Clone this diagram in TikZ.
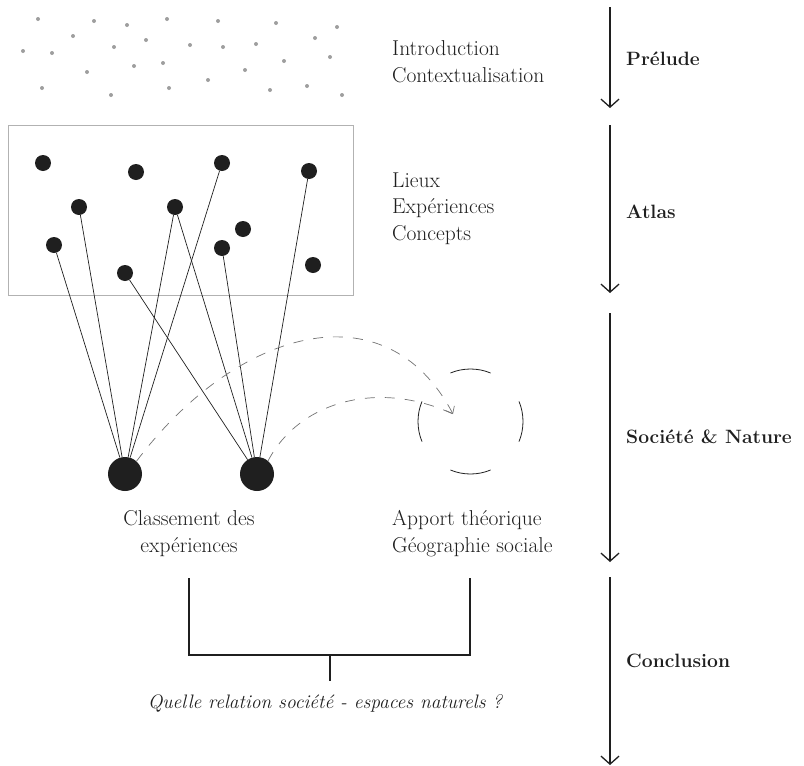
\documentclass[tikz,border=0pt]{standalone}
\usetikzlibrary{arrows.meta}
\definecolor{dotgray}{gray}{0.62}
\definecolor{boxgray}{gray}{0.7}
\definecolor{flowgray}{gray}{0.45}
\definecolor{ink}{gray}{0.12}
\begin{document}
\begin{tikzpicture}[x=1pt,y=-1pt,
  txt/.style={font=\fontsize{21.5}{25}\selectfont, inner sep=0pt, text=ink},
  lbl/.style={font=\fontsize{19.3}{23}\selectfont\bfseries, inner sep=0pt, anchor=base west, text=ink},
  gdot/.style={circle, fill=dotgray, inner sep=0pt, minimum size=4pt},
  bdot/.style={circle, fill=ink, inner sep=0pt, minimum size=16pt},
  bigdot/.style={circle, fill=ink, inner sep=0pt, minimum size=34pt},
  link/.style={draw=ink, line width=0.7pt},
  axisarrow/.style={draw=ink, line width=1.4pt, -{Straight Barb[length=8pt,width=18pt,line width=1.3pt]}},
  flow/.style={draw=flowgray, dash pattern=on 10pt off 10pt, line width=0.7pt},
  ring/.style={draw=ink, line width=0.8pt},
  brace/.style={draw=ink, line width=1.3pt},
]
\useasboundingbox (0,0) rectangle (804,766);

% ---------- Prélude : scattered grey points ----------
\foreach \px/\py [count=\n] in {38/19,94/21,127/25,167/19,218/21,276/23,337/27,
  73/36,146/40,315/38,23/51,52/53,114/47,190/45,223/47,256/44,330/57,284/61,
  87/72,134/66,163/63,245/70,42/88,111/95,169/88,208/80,270/90,307/86,342/95}
  \node[gdot] (g\n) at (\px,\py) {};

\node[txt, anchor=base west] (intro) at (392,55) {Introduction};
\node[txt, anchor=base west] (context) at (392,82) {Contextualisation};

% ---------- Atlas ----------
\node[draw=boxgray, line width=0.8pt, minimum width=345pt, minimum height=170pt,
      inner sep=0pt, anchor=north west] (atlasbox) at (8,125) {};

\node[bdot] (a) at (43,163) {};
\node[bdot] (b) at (136,172) {};
\node[bdot] (c) at (222,163) {};
\node[bdot] (d) at (309,171) {};
\node[bdot] (e) at (79,207) {};
\node[bdot] (f) at (175,207) {};
\node[bdot] (g) at (243,229) {};
\node[bdot] (h) at (54,245) {};
\node[bdot] (i) at (222,248) {};
\node[bdot] (j) at (313,265) {};
\node[bdot] (k) at (125,273) {};

\node[txt, anchor=base west] (lieux) at (392,187) {Lieux};
\node[txt, anchor=base west] (exper) at (392,213) {Expériences};
\node[txt, anchor=base west] (concepts) at (392,240) {Concepts};

% ---------- Société & Nature ----------
\node[bigdot] (B1) at (125,474) {};
\node[bigdot] (B2) at (257,474) {};

\draw[link] (h) -- (B1);
\draw[link] (e) -- (B1);
\draw[link] (f) -- (B1);
\draw[link] (c) -- (B1);
\draw[link] (k) -- (B2);
\draw[link] (f) -- (B2);
\draw[link] (i) -- (B2);
\draw[link] (d) -- (B2);

% dashed ring
\coordinate (ringc) at (470.5,421.5);
\foreach \ang in {0,90,180,270}
  \draw[ring] ([shift={(\ang-22.5:52.5)}]ringc) arc[start angle=\ang-22.5, end angle=\ang+22.5, radius=52.5];

\coordinate (tip) at (453,414);
\draw[flow, -{Straight Barb[length=6pt,width=10pt,line width=0.7pt]}]
  (B1.48) .. controls (235,330) and (385,285) .. (tip);
\draw[flow] (B2.50) .. controls (300,400) and (380,380) .. (tip);

\node[txt, anchor=base] (class1) at (189,525) {Classement des};
\node[txt, anchor=base] (class2) at (189,552) {expériences};
\node[txt, anchor=base west] (apport) at (392,525) {Apport théorique};
\node[txt, anchor=base west] (geo) at (392,552) {Géographie sociale};

% ---------- Conclusion ----------
\coordinate (bl) at (189,578);
\coordinate (br) at (470,578);
\coordinate (bm) at (330,655);
\coordinate (bs) at (330,681);
\draw[brace] (bl) |- (bm) -| (br);
\draw[brace] (bm) -- (bs);

\node[font=\fontsize{19.5}{23}\selectfont\itshape, inner sep=0pt, anchor=base, text=ink]
  (question) at (325,708) {Quelle relation société - espaces naturels ?};

% ---------- timeline ----------
\coordinate (s1) at (610,7);    \coordinate (t1) at (610,108);
\coordinate (s2) at (610,125);  \coordinate (t2) at (610,293);
\coordinate (s3) at (610,313);  \coordinate (t3) at (610,562);
\coordinate (s4) at (610,577);  \coordinate (t4) at (610,765);
\draw[axisarrow] (s1) -- (t1);
\draw[axisarrow] (s2) -- (t2);
\draw[axisarrow] (s3) -- (t3);
\draw[axisarrow] (s4) -- (t4);

\node[lbl] (prelude) at (626,65) {Prélude};
\node[lbl] (atlas) at (626,218) {Atlas};
\node[lbl] (socnat) at (626,443) {Société \& Nature};
\node[lbl] (conclusion) at (626,667) {Conclusion};
\end{tikzpicture}
\end{document}
